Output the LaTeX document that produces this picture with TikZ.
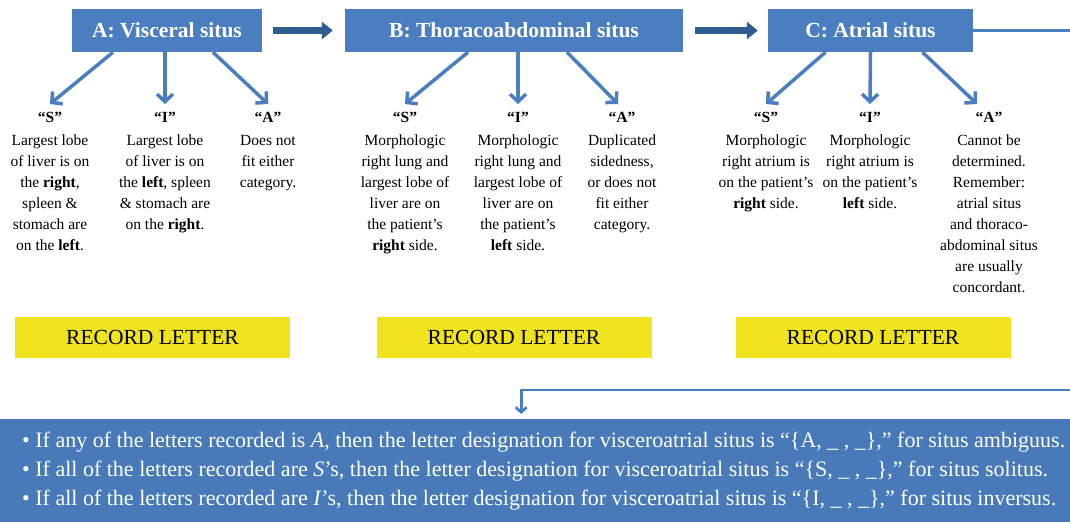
\documentclass[tikz,border=0pt]{standalone}
\usepackage{fontspec}
\setmainfont{Liberation Serif}
\usetikzlibrary{arrows.meta,calc}
\definecolor{boxblue}{RGB}{74,126,193}
\definecolor{flowblue}{RGB}{47,92,145}
\definecolor{childblue}{RGB}{74,126,193}
\definecolor{sumblue}{RGB}{72,122,185}
\definecolor{recyellow}{RGB}{240,228,30}
\begin{document}
\begin{tikzpicture}[x=1pt,y=-1pt,
  title/.style={fill=boxblue, text=white, inner sep=0pt, minimum height=43pt,
    font=\fontsize{21.5}{24}\selectfont\bfseries},
  col/.style={anchor=north, align=center, inner sep=0pt,
    font=\fontsize{15.5}{21}\selectfont},
  record/.style={fill=recyellow, minimum width=275pt, minimum height=41pt,
    inner sep=0pt, font=\fontsize{21.5}{24}\selectfont},
  child/.style={draw=childblue, line width=3.5pt,
    -{Straight Barb[length=7.5pt,width=16pt]}},
  flow/.style={draw=flowblue, line width=6.5pt,
    -{Triangle[length=11pt,width=17pt]}},
  link/.style={draw=childblue, line width=2.6pt},
  sumbox/.style={fill=sumblue, minimum width=1070pt, minimum height=103pt, inner sep=0pt},
  sumtext/.style={text=white, align=left, inner sep=0pt,
    font=\fontsize{22}{29}\selectfont},
]
\useasboundingbox (0,0) rectangle (1070,522);
\clip (0,0) rectangle (1070,522);

% three situs headers
\node[title, minimum width=190pt] (A) at (167,30.5) {A: Visceral situs};
\node[title, minimum width=338pt] (B) at (514,30.5) {B: Thoracoabdominal situs};
\node[title, minimum width=205pt] (C) at (870.5,30.5) {C: Atrial situs};

\draw[flow, shorten <=11pt, shorten >=12pt] (A.east) -- (B.west);
\draw[flow, shorten <=12pt, shorten >=10pt] (B.east) -- (C.west);

% A: visceral situs
\node[col] (aS) at (50,112) {\textbf{“S”}\\[2pt]Largest lobe\\of liver is on\\the \textbf{right},\\spleen \&\\stomach are\\on the \textbf{left}.};
\node[col] (aI) at (165,112) {\textbf{“I”}\\[2pt]Largest lobe\\of liver is on\\the \textbf{left}, spleen\\\& stomach are\\on the \textbf{right}.};
\node[col] (aA) at (268,112) {\textbf{“A”}\\[2pt]Does not\\fit either\\category.};

% B: thoracoabdominal situs
\node[col] (bS) at (405,112) {\textbf{“S”}\\[2pt]Morphologic\\right lung and\\largest lobe of\\liver are on\\the patient’s\\\textbf{right} side.};
\node[col] (bI) at (518,112) {\textbf{“I”}\\[2pt]Morphologic\\right lung and\\largest lobe of\\liver are on\\the patient’s\\\textbf{left} side.};
\node[col] (bA) at (622,112) {\textbf{“A”}\\[2pt]Duplicated\\sidedness,\\or does not\\fit either\\category.};

% C: atrial situs
\node[col] (cS) at (766,112) {\textbf{“S”}\\[2pt]Morphologic\\right atrium is\\on the patient’s\\\textbf{right} side.};
\node[col] (cI) at (870,112) {\textbf{“I”}\\[2pt]Morphologic\\right atrium is\\on the patient’s\\\textbf{left} side.};
\node[col] (cA) at (989,112) {\textbf{“A”}\\[2pt]Cannot be\\determined.\\Remember:\\atrial situs\\and thoraco-\\abdominal situs\\are usually\\concordant.};

\draw[child] ([xshift=-54pt]A.south) -- ([yshift=8pt]aS.north);
\draw[child] ([xshift=-2pt]A.south) -- ([yshift=8pt]aI.north);
\draw[child] ([xshift=46pt]A.south) -- ([yshift=8pt]aA.north);
\draw[child] ([xshift=-46pt]B.south) -- ([yshift=8pt]bS.north);
\draw[child] ([xshift=4pt]B.south) -- ([yshift=8pt]bI.north);
\draw[child] ([xshift=53pt]B.south) -- ([xshift=-4pt,yshift=8pt]bA.north);
\draw[child] ([xshift=-45pt]C.south) -- ([yshift=8pt]cS.north);
\draw[child] ([xshift=0pt]C.south) -- ([yshift=8pt]cI.north);
\draw[child] ([xshift=52pt]C.south) -- ([xshift=-12pt,yshift=8pt]cA.north);

% record boxes
\node[record] (rA) at (152.5,337.5) {RECORD LETTER};
\node[record] (rB) at (514,337.5) {RECORD LETTER};
\node[record] (rC) at (873,337.5) {RECORD LETTER};

% summary
\node[sumbox, anchor=north west] (sum) at (0,419) {};
\node[sumtext, anchor=west] (sumtxt) at ([xshift=22pt]sum.west) {%
• If any of the letters recorded is \textit{A}, then the letter designation for visceroatrial situs is “\{A, \_ , \_\},” for situs ambiguus.\\
• If all of the letters recorded are \textit{S}’s, then the letter designation for visceroatrial situs is “\{S, \_ , \_\},” for situs solitus.\\
• If all of the letters recorded are \textit{I}’s, then the letter designation for visceroatrial situs is “\{I, \_ , \_\},” for situs inversus.};

\coordinate (turn) at (1090,390);
\draw[link, -{Straight Barb[length=5pt,width=11pt]}, shorten >=5pt]
  (C.east) -| (turn) -| ([xshift=-14pt]sum.north);
\end{tikzpicture}
\end{document}
